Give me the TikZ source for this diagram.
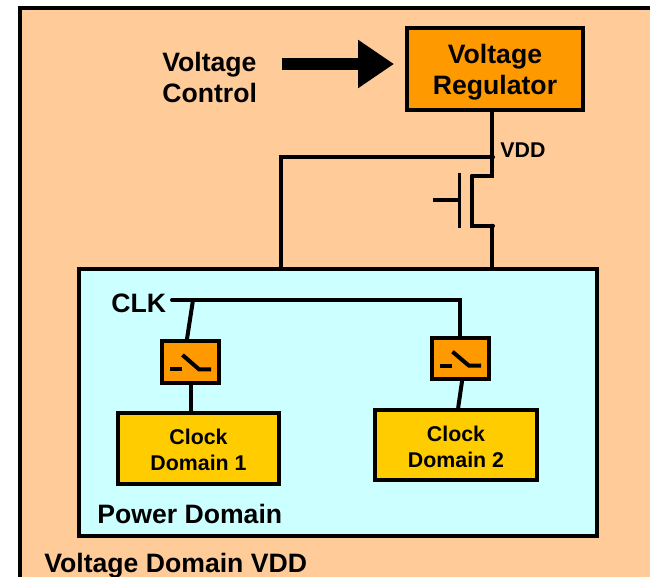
\documentclass[tikz,border=0pt]{standalone}
\usepackage{fontspec}
\setmainfont{Liberation Sans}
\definecolor{vdpeach}{RGB}{255, 204, 153}
\definecolor{pdcyan}{RGB}{204, 255, 255}
\definecolor{regorange}{RGB}{255, 153, 0}
\definecolor{cdyellow}{RGB}{255, 204, 0}
\usetikzlibrary{arrows.meta, calc}

\begin{document}
\begin{tikzpicture}[
  x=0.02cm, y=-0.02cm,
  ibox/.style={draw, line width=0.08cm, inner sep=0pt, align=center},
  bigtext/.style={font=\bfseries\fontsize{15.15}{18}\selectfont},
  smalltext/.style={font=\bfseries\fontsize{12.15}{14.8}\selectfont},
  wire/.style={line width=0.08cm, line cap=round},
  gatewire/.style={line width=0.065cm},
  symwire/.style={line width=0.08cm},
  swbox/.style={ibox, fill=regorange, minimum width=1.14cm, minimum height=0.84cm},
  cdbox/.style={ibox, fill=cdyellow, minimum width=3.22cm, minimum height=1.42cm}
]
  \path[use as bounding box, clip] (0,0) rectangle (650,577);

  % domains
  \node[ibox, fill=vdpeach, minimum width=14cm, minimum height=13cm] (vdomain) at (370, 333) {};
  \node[ibox, fill=pdcyan, minimum width=10.36cm, minimum height=5.34cm] (pdomain) at (338, 402.5) {};

  % regulator
  \node[ibox, fill=regorange, minimum width=3.53cm, minimum height=1.66cm] (reg) at (495, 69) {};
  \node[bigtext, align=center, inner sep=0pt] (regtext) at (495, 72) {Voltage\\Regulator};
  \node[bigtext, align=left, anchor=west, inner sep=0pt] (ctrl) at (162, 77.5) {Voltage\\Control};
  \coordinate (ctrlout) at (282, 64);
  \coordinate (regin) at (394, 64);
  \draw[line width=0.24cm, -{Triangle[length=0.72cm, width=0.92cm]}] (ctrlout) -- (regin);

  % header switch
  \coordinate (vddtop) at (492, 111);
  \coordinate (vddnode) at (493, 157.5);
  \coordinate (drain) at (492, 176);
  \coordinate (source) at (493, 225.7);
  \coordinate (srcdown) at (492, 225.7);
  \coordinate (chtop) at (472, 176);
  \coordinate (chbot) at (472, 225.7);
  \coordinate (gtop) at (459.5, 173);
  \coordinate (gbot) at (459.5, 228);
  \coordinate (gmid) at (459.5, 200);
  \coordinate (gin) at (433, 200);
  \coordinate (pdleft) at (281, 269);
  \coordinate (pdright) at (492, 269);
  \draw[wire] (vddtop) -- (drain) -- (chtop);
  \draw[wire] (chtop) -- (chbot) -- (source);
  \draw[wire] (srcdown) -- (pdright);
  \draw[wire] (vddnode) -- (pdleft |- vddnode) -- (pdleft);
  \draw[gatewire] (gtop) -- (gbot);
  \draw[gatewire] (gin) -- (gmid);
  \node[smalltext, anchor=west, inner sep=0pt] (vdd) at (500, 150) {VDD};

  % clock tree
  \node[bigtext, anchor=west, inner sep=0pt] (clk) at (111, 303) {CLK};
  \node[swbox] (sw1) at (190.5, 362) {};
  \node[swbox] (sw2) at (460.5, 358.5) {};
  \node[cdbox] (cd1) at (198.5, 448.5) {};
  \node[cdbox, minimum width=3.24cm] (cd2) at (456.2, 445) {};
  \node[smalltext, align=center, inner sep=0pt] (cd1text) at (198.5, 450) {Clock\\Domain 1};
  \node[smalltext, align=center, inner sep=0pt] (cd2text) at (456, 447) {Clock\\Domain 2};
  \coordinate (clkout) at (172, 300);
  \coordinate (clkend) at (460, 300);
  \coordinate (tap1) at (193, 300);
  \draw[wire] (clkout) -- (clkend) -- (sw2.north -| clkend);
  \draw[wire] (tap1) -- ($(sw1.north)+(-3.5,0)$);
  \draw[wire] (sw1.south) -- (cd1.north -| sw1.south);
  \draw[wire] ($(sw2.south)+(1.5,0)$) -- ($(cd2.north)+(2,0)$);

  % switch symbols
  \coordinate (s1a) at (170, 369.3);
  \coordinate (s1b) at (182, 369.3);
  \coordinate (s1c) at (182.5, 355);
  \coordinate (s1d) at (199, 369.3);
  \coordinate (s1e) at (211, 369.3);
  \draw[symwire] (s1a) -- (s1b);
  \draw[symwire] (s1c) -- (s1d) -- (s1e);
  \coordinate (s2a) at (440, 365.7);
  \coordinate (s2b) at (452, 365.7);
  \coordinate (s2c) at (452.5, 351.7);
  \coordinate (s2d) at (469, 365.7);
  \coordinate (s2e) at (481, 365.7);
  \draw[symwire] (s2a) -- (s2b);
  \draw[symwire] (s2c) -- (s2d) -- (s2e);

  % labels
  \node[bigtext, anchor=west, inner sep=0pt] (pdlabel) at (97, 514) {Power Domain};
  \node[bigtext, anchor=west, inner sep=0pt] (vdlabel) at (44, 566) {Voltage Domain VDD};
\end{tikzpicture}
\end{document}
